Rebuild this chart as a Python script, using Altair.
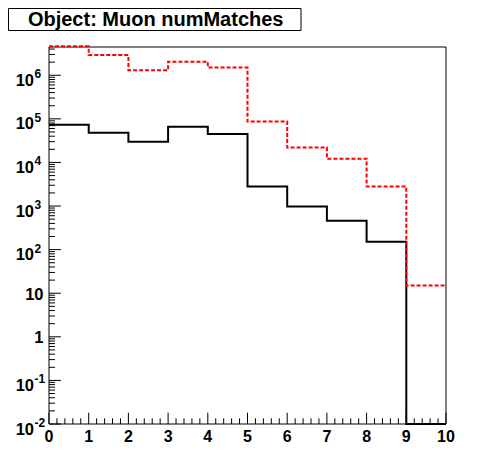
import altair as alt
import pandas as pd

# ---- data ----
bin_edges = [0, 1, 2, 3, 4, 5, 6, 7, 8, 9, 10]
black_counts = [7.3e4, 4.8e4, 3.0e4, 6.6e4, 4.5e4, 2.8e3, 980, 460, 152, 0]
red_counts = [4.6e6, 2.9e6, 1.3e6, 2.05e6, 1.5e6, 8.7e4, 2.2e4, 1.22e4, 2.8e3, 15]

title_text = "Object: Muon numMatches"

x_major = [0, 1, 2, 3, 4, 5, 6, 7, 8, 9, 10]
x_labels = ["0", "1", "2", "3", "4", "5", "6", "7", "8", "9", "10"]

y_decades = [1e-2, 1e-1, 1, 10, 1e2, 1e3, 1e4, 1e5, 1e6]
y_base = ["10", "10", "1", "10", "10", "10", "10", "10", "10"]
y_exp = ["-2", "-1", "", "", "2", "3", "4", "5", "6"]

Y_MIN, Y_MAX = 1e-2, 4.45e6
W, H = 397, 377
FONT = "Liberation Sans"

xs = alt.Scale(domain=[0, 10], nice=False, zero=False)
ys = alt.Scale(type="log", domain=[Y_MIN, Y_MAX], nice=False)


def hist_df(counts):
    # empty bins are drawn on the bottom edge, as the log axis cannot show 0
    vals = [c if c > 0 else Y_MIN for c in counts]
    return pd.DataFrame({"x": bin_edges, "y": vals + [vals[-1]]})


black_line = alt.Chart(hist_df(black_counts)).mark_line(
    interpolate="step-after", color="black", strokeWidth=2, clip=False
).encode(x=alt.X("x:Q", scale=xs, axis=None), y=alt.Y("y:Q", scale=ys, axis=None))

red_line = alt.Chart(hist_df(red_counts)).mark_line(
    interpolate="step-after", color="#ff0000", strokeWidth=2, strokeDash=[4, 2], clip=False
).encode(x=alt.X("x:Q", scale=xs, axis=None), y=alt.Y("y:Q", scale=ys, axis=None))

one = pd.DataFrame({"a": [0]})

frame = alt.Chart(one).mark_rect(fill=None, stroke="black", strokeWidth=1).encode(
    x=alt.value(0), x2=alt.value(W), y=alt.value(0), y2=alt.value(H)
)

# ---- ticks (inward, ROOT style) ----
x_minor = [m + k * 0.2 for m in x_major[:-1] for k in range(1, 5)]
y_minor = [k * d for d in y_decades for k in range(2, 10) if k * d <= Y_MAX]

xt_major = alt.Chart(pd.DataFrame({"v": x_major})).mark_rule(color="black", strokeWidth=1).encode(
    x=alt.X("v:Q", scale=xs, axis=None), y=alt.value(H), y2=alt.value(H - 11.3)
)
xt_minor = alt.Chart(pd.DataFrame({"v": x_minor})).mark_rule(color="black", strokeWidth=1).encode(
    x=alt.X("v:Q", scale=xs, axis=None), y=alt.value(H), y2=alt.value(H - 5.7)
)
yt_major = alt.Chart(pd.DataFrame({"v": y_decades})).mark_rule(color="black", strokeWidth=1).encode(
    y=alt.Y("v:Q", scale=ys, axis=None), x=alt.value(0), x2=alt.value(11.9)
)
yt_minor = alt.Chart(pd.DataFrame({"v": y_minor})).mark_rule(color="black", strokeWidth=1).encode(
    y=alt.Y("v:Q", scale=ys, axis=None), x=alt.value(0), x2=alt.value(6)
)

# ---- labels ----
xlab = alt.Chart(pd.DataFrame({"v": x_major, "t": x_labels})).mark_text(
    font=FONT, fontWeight="bold", fontSize=16, align="center", baseline="alphabetic", color="black"
).encode(x=alt.X("v:Q", scale=xs, axis=None), y=alt.value(H + 18), text="t:N")

ydf = pd.DataFrame({"v": y_decades, "b": y_base, "e": y_exp})
ydf_exp = ydf[ydf["e"] != ""]
ydf_plain = ydf[ydf["e"] == ""]

ylab_base = alt.Chart(ydf_exp).mark_text(
    font=FONT, fontWeight="bold", fontSize=16.5, align="right", baseline="alphabetic", dy=10.5, color="black"
).encode(y=alt.Y("v:Q", scale=ys, axis=None), x=alt.value(-15), text="b:N")

ylab_exp = alt.Chart(ydf_exp).mark_text(
    font=FONT, fontWeight="bold", fontSize=12, align="left", baseline="alphabetic", dy=3, color="black"
).encode(y=alt.Y("v:Q", scale=ys, axis=None), x=alt.value(-14.5), text="e:N")

ylab_plain = alt.Chart(ydf_plain).mark_text(
    font=FONT, fontWeight="bold", fontSize=16.5, align="right", baseline="alphabetic", dy=6.5, color="black"
).encode(y=alt.Y("v:Q", scale=ys, axis=None), x=alt.value(-5.5), text="b:N")

# ---- title box ----
title_box = alt.Chart(one).mark_rect(fill="white", stroke="black", strokeWidth=1, clip=False).encode(
    x=alt.value(-40.5), x2=alt.value(252), y=alt.value(-38.5), y2=alt.value(-16.5)
)
title = alt.Chart(pd.DataFrame({"t": [title_text]})).mark_text(
    font=FONT, fontWeight="bold", fontSize=20, align="center", baseline="middle", color="black"
).encode(x=alt.value(106.7), y=alt.value(-27.5), text="t:N")

chart = alt.layer(
    frame, xt_major, xt_minor, yt_major, yt_minor,
    black_line, red_line,
    xlab, ylab_base, ylab_exp, ylab_plain,
    title_box, title,
).properties(
    width=W, height=H,
    autosize=alt.AutoSizeParams(type="none"),
    padding={"left": 41, "top": 39, "right": 40, "bottom": 40},
    background="white",
).configure_view(stroke=None)

chart.save("out.html", embed_options={"renderer": "svg", "actions": False})
